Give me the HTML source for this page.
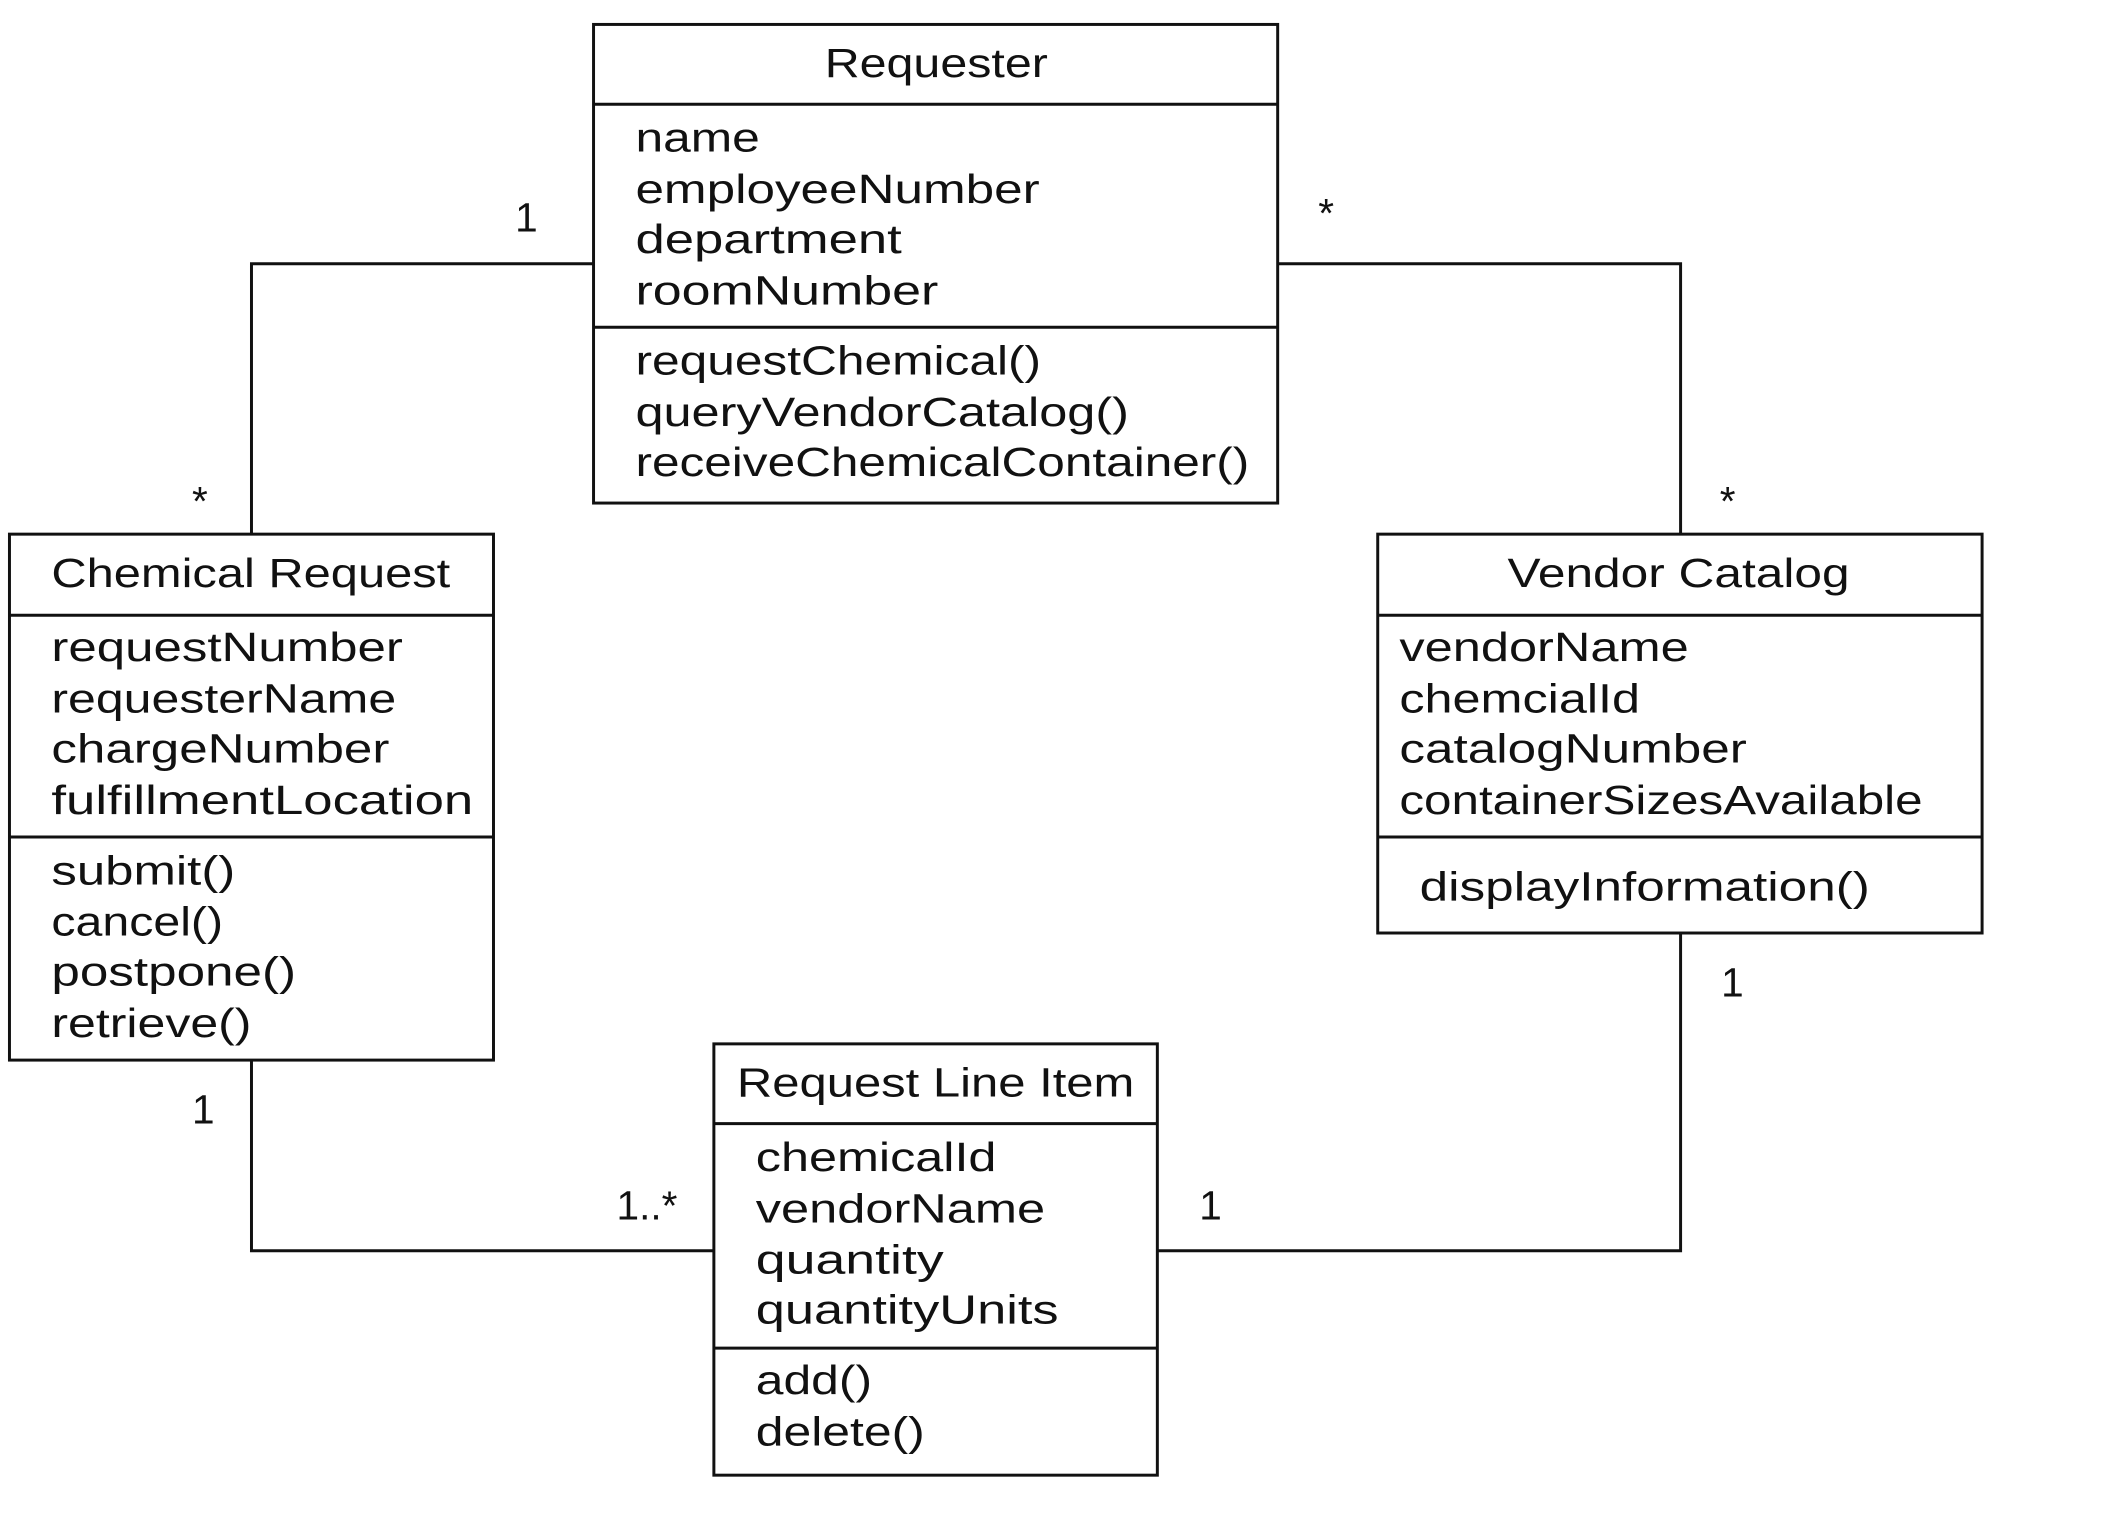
<!DOCTYPE html>
<html><head><meta charset="utf-8"><style>
html,body{margin:0;padding:0;background:#fff;}
svg{display:block;}
text{font-family:"Liberation Sans",sans-serif;font-size:30px;fill:#111;}
</style></head><body>
<svg width="2120" height="1528" viewBox="0 0 1568 1130" xmlns="http://www.w3.org/2000/svg">
<g fill="none" stroke="#111" stroke-width="2.2">
<rect x="439" y="18" width="506" height="354"/>
<line x1="439" y1="77" x2="945" y2="77"/><line x1="439" y1="242" x2="945" y2="242"/>
<rect x="7" y="395" width="358" height="389"/>
<line x1="7" y1="455" x2="365" y2="455"/><line x1="7" y1="619" x2="365" y2="619"/>
<rect x="1019" y="395" width="447" height="295"/>
<line x1="1019" y1="455" x2="1466" y2="455"/><line x1="1019" y1="619" x2="1466" y2="619"/>
<rect x="528" y="772" width="328" height="319"/>
<line x1="528" y1="831" x2="856" y2="831"/><line x1="528" y1="997" x2="856" y2="997"/>
<polyline points="439,195 186,195 186,395"/>
<polyline points="945,195 1243,195 1243,395"/>
<polyline points="186,784 186,925 528,925"/>
<polyline points="1243,690 1243,925 856,925"/>
</g>
<g>
<text x="610" y="57" textLength="165" lengthAdjust="spacingAndGlyphs">Requester</text>
<text x="470" y="112" textLength="92" lengthAdjust="spacingAndGlyphs">name</text>
<text x="470" y="150" textLength="299" lengthAdjust="spacingAndGlyphs">employeeNumber</text>
<text x="470" y="187" textLength="197" lengthAdjust="spacingAndGlyphs">department</text>
<text x="470" y="225" textLength="224" lengthAdjust="spacingAndGlyphs">roomNumber</text>
<text x="470" y="277" textLength="300" lengthAdjust="spacingAndGlyphs">requestChemical()</text>
<text x="470" y="315" textLength="365" lengthAdjust="spacingAndGlyphs">queryVendorCatalog()</text>
<text x="470" y="352" textLength="454" lengthAdjust="spacingAndGlyphs">receiveChemicalContainer()</text>

<text x="38" y="434" textLength="295" lengthAdjust="spacingAndGlyphs">Chemical Request</text>
<text x="38" y="489" textLength="260" lengthAdjust="spacingAndGlyphs">requestNumber</text>
<text x="38" y="527" textLength="255" lengthAdjust="spacingAndGlyphs">requesterName</text>
<text x="38" y="564" textLength="250" lengthAdjust="spacingAndGlyphs">chargeNumber</text>
<text x="38" y="602" textLength="312" lengthAdjust="spacingAndGlyphs">fulfillmentLocation</text>
<text x="38" y="654" textLength="136" lengthAdjust="spacingAndGlyphs">submit()</text>
<text x="38" y="692" textLength="127" lengthAdjust="spacingAndGlyphs">cancel()</text>
<text x="38" y="729" textLength="181" lengthAdjust="spacingAndGlyphs">postpone()</text>
<text x="38" y="767" textLength="148" lengthAdjust="spacingAndGlyphs">retrieve()</text>

<text x="1115" y="434" textLength="253" lengthAdjust="spacingAndGlyphs">Vendor Catalog</text>
<text x="1035" y="489" textLength="214" lengthAdjust="spacingAndGlyphs">vendorName</text>
<text x="1035" y="527" textLength="178" lengthAdjust="spacingAndGlyphs">chemcialId</text>
<text x="1035" y="564" textLength="257" lengthAdjust="spacingAndGlyphs">catalogNumber</text>
<text x="1035" y="602" textLength="387" lengthAdjust="spacingAndGlyphs">containerSizesAvailable</text>
<text x="1050" y="666" textLength="333" lengthAdjust="spacingAndGlyphs">displayInformation()</text>

<text x="545" y="811" textLength="294" lengthAdjust="spacingAndGlyphs">Request Line Item</text>
<text x="559" y="866" textLength="178" lengthAdjust="spacingAndGlyphs">chemicalId</text>
<text x="559" y="904" textLength="214" lengthAdjust="spacingAndGlyphs">vendorName</text>
<text x="559" y="942" textLength="139" lengthAdjust="spacingAndGlyphs">quantity</text>
<text x="559" y="979" textLength="224" lengthAdjust="spacingAndGlyphs">quantityUnits</text>
<text x="559" y="1031" textLength="86" lengthAdjust="spacingAndGlyphs">add()</text>
<text x="559" y="1069" textLength="125" lengthAdjust="spacingAndGlyphs">delete()</text>
</g>
<g style="font-size:26px">
<text x="381" y="171">1</text>
<text x="142" y="381">*</text>
<text x="975" y="168">*</text>
<text x="1272" y="381">*</text>
<text x="142" y="831">1</text>
<text x="456" y="902">1..*</text>
<text x="887" y="902">1</text>
<text x="1273" y="737">1</text>
</g>
</svg>
</body></html>
